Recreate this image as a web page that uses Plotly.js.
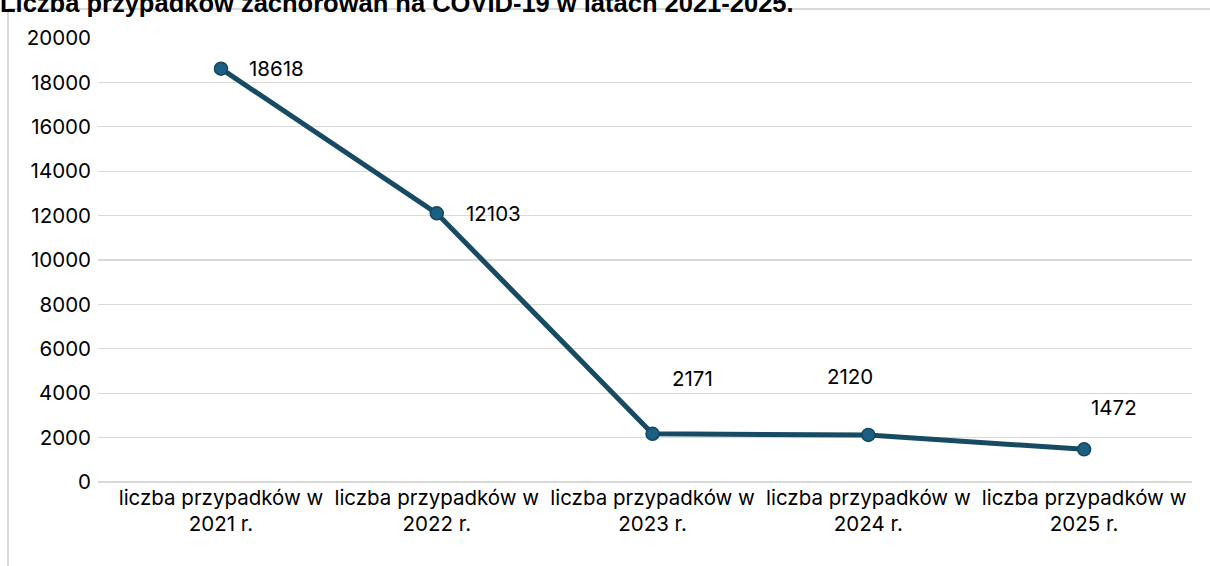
<!DOCTYPE html>
<html>
<head>
<meta charset="utf-8">
<script src="https://cdn.plot.ly/plotly-3.0.1.min.js"></script>
<style>
  html, body { margin: 0; padding: 0; background: #fff; }
  #chart { width: 1210px; height: 566px; }
</style>
</head>
<body>
<div id="chart"></div>
<script>
const titleText = "Liczba przypadków zachorowań na COVID-19 w latach 2021-2025.";
const categories = [
  "liczba przypadków w<br>2021 r.",
  "liczba przypadków w<br>2022 r.",
  "liczba przypadków w<br>2023 r.",
  "liczba przypadków w<br>2024 r.",
  "liczba przypadków w<br>2025 r."
];
const cases = [18618, 12103, 2171, 2120, 1472];
const yTicks = [0, 2000, 4000, 6000, 8000, 10000, 12000, 14000, 16000, 18000, 20000];

// label placement offsets (px) relative to each point
const labelDx = [56, 57, 40, -18, 30];
const labelDy = [0, 0, 55, 58, 42];

const FONT = "Inter, 'Open Sans', sans-serif";
const FS = 20.5;

const trace = {
  type: "scatter",
  mode: "lines+markers",
  x: categories,
  y: cases,
  line: { color: "#164B63", width: 5 },
  marker: { size: 13, color: "#1B5F82", line: { color: "#154760", width: 1.5 } },
  hoverinfo: "x+y"
};

const annotations = cases.map((v, i) => ({
  x: categories[i], y: v, xref: "x", yref: "y",
  text: String(v), showarrow: false,
  xanchor: "center", yanchor: "middle",
  xshift: labelDx[i], yshift: labelDy[i],
  font: { family: FONT, size: FS, color: "#000" }
}));

const layout = {
  width: 1210, height: 566,
  margin: { l: 98, r: 18, t: 38, b: 84 },
  paper_bgcolor: "#fff", plot_bgcolor: "#fff",
  showlegend: false,
  title: {
    text: "<b>" + titleText + "</b>",
    x: 0, xanchor: "left", xref: "container",
    y: 0.995, yanchor: "middle", yref: "container",
    font: { family: "'Liberation Sans', Arial, sans-serif", size: 25.5, color: "#000" }
  },
  xaxis: {
    type: "category",
    range: [-0.57, 4.5],
    showgrid: false, zeroline: false, showline: false,
    ticks: "",
    tickfont: { family: FONT, size: FS, color: "#000" },
    ticklabelstandoff: 1,
    fixedrange: true
  },
  yaxis: {
    range: [0, 20000],
    tickvals: yTicks,
    ticktext: yTicks.map(String),
    showgrid: true, gridcolor: "#d9d9d9", gridwidth: 1.3,
    zeroline: true, zerolinecolor: "#d9d9d9", zerolinewidth: 1.3,
    showline: false, ticks: "",
    tickfont: { family: FONT, size: FS, color: "#000" },
    ticklabelstandoff: 6,
    fixedrange: true
  },
  shapes: [
    { type: "line", xref: "paper", yref: "paper", x0: -0.0823, x1: -0.0823, y0: 1.0653, y1: -0.4,
      line: { color: "#d9d9d9", width: 2 }, layer: "below" },
    { type: "line", xref: "paper", yref: "paper", x0: -0.0823, x1: 1.1, y0: 1.0653, y1: 1.0653,
      line: { color: "#d9d9d9", width: 2 }, layer: "below" }
  ],
  annotations: annotations
};

Plotly.newPlot("chart", [trace], layout, { displayModeBar: false, staticPlot: true });
</script>
</body>
</html>
